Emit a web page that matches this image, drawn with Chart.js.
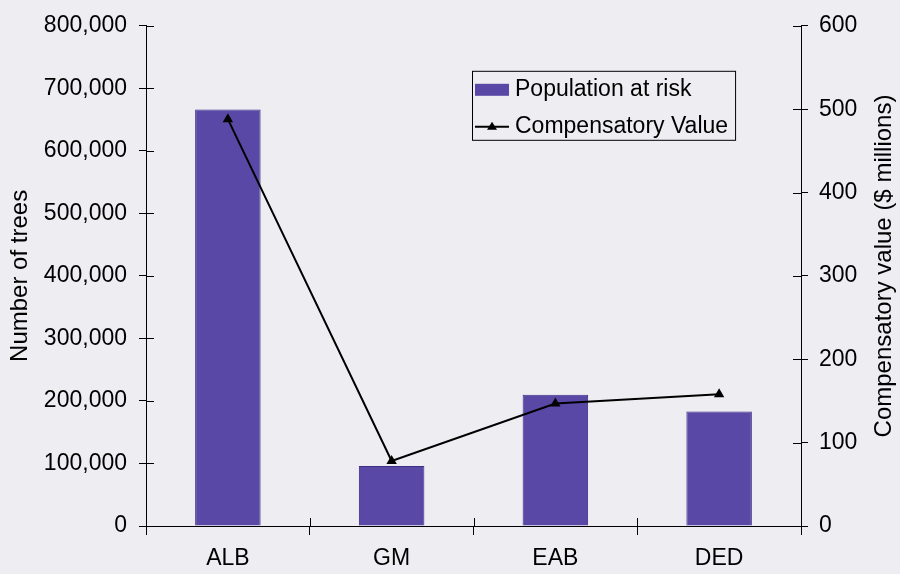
<!DOCTYPE html>
<html>
<head>
<meta charset="utf-8">
<title>Population at risk and compensatory value</title>
<script src="https://cdn.jsdelivr.net/npm/chart.js@4.4.1/dist/chart.umd.min.js"></script>
<style>
    html, body { margin: 0; padding: 0; background: #eeedf1; }
</style>
</head>
<body>
<canvas id="chart" width="900" height="574"></canvas>
<script>
"use strict";

// pests and their impact
const pests = ["ALB", "GM", "EAB", "DED"];
const treesAtRisk = [666000, 96000, 210000, 183000]; // number of trees
const compensatoryValue = [488, 78, 147, 158];        // $ millions

const treeAxisMax = 800000;
const treeAxisStep = 100000;
const valueAxisMax = 600;
const valueAxisStep = 100;

const FONT = "'Liberation Sans', Arial, sans-serif";
const barColor = "#5a48a6";

Chart.defaults.font.family = FONT;
Chart.defaults.color = "#000";

const canvas = document.getElementById("chart");

// page background behind the whole chart
const backdrop = {
    id: "backdrop",
    beforeDraw(chart) {
        const ctx = chart.ctx;
        ctx.save();
        ctx.fillStyle = "#eeedf1";
        ctx.fillRect(0, 0, chart.width, chart.height);
        ctx.restore();
    }
};

// tick marks that also poke into the plot, plus the right title and the boxed legend
const extras = {
    id: "extras",
    afterDraw(chart) {
        const ctx = chart.ctx;
        const area = chart.chartArea;
        const x = chart.scales.x, y = chart.scales.y, y1 = chart.scales.y1;
        ctx.save();
        ctx.strokeStyle = "#000";
        ctx.lineWidth = 1;
        ctx.beginPath();
        y.ticks.forEach(t => {
            const py = Math.round(y.getPixelForValue(t.value)) + 0.5;
            ctx.moveTo(area.left, py);
            ctx.lineTo(area.left + 8, py);
        });
        y1.ticks.forEach(t => {
            const py = Math.round(y1.getPixelForValue(t.value)) + 0.5;
            ctx.moveTo(area.right - 8, py);
            ctx.lineTo(area.right, py);
        });
        for (let i = 1; i < pests.length; i++) {
            const px = Math.round((x.getPixelForValue(i - 1) + x.getPixelForValue(i)) / 2) + 0.5;
            ctx.moveTo(px, area.bottom - 8);
            ctx.lineTo(px, area.bottom);
        }
        ctx.stroke();

        // right axis title, reading bottom to top
        ctx.font = "24px " + FONT;
        ctx.fillStyle = "#000";
        ctx.textAlign = "center";
        ctx.textBaseline = "middle";
        ctx.save();
        ctx.translate(884, 266);
        ctx.rotate(-Math.PI / 2);
        ctx.fillText("Compensatory value ($ millions)", 0, 0);
        ctx.restore();

        // legend box: bars first, then the line
        const sets = chart.data.datasets;
        const barSet = sets.find(d => d.type !== "line");
        const lineSet = sets.find(d => d.type === "line");
        ctx.font = "23px " + FONT;
        const boxL = area.left + 326, boxT = area.top + 45;
        const textX = boxL + 43;
        const textW = Math.max(ctx.measureText(barSet.label).width, ctx.measureText(lineSet.label).width);
        const boxW = textX - boxL + textW + 7;
        const boxH = 69;
        ctx.strokeRect(boxL + 0.5, boxT + 0.5, boxW, boxH);

        const row1 = boxT + 19, row2 = boxT + 56;
        ctx.fillStyle = barColor;
        ctx.fillRect(boxL + 3, row1 - 6, 34, 12);
        ctx.beginPath();
        ctx.moveTo(boxL + 3, row2);
        ctx.lineTo(boxL + 37, row2);
        ctx.lineWidth = 2;
        ctx.stroke();
        ctx.fillStyle = "#000";
        ctx.beginPath();
        ctx.moveTo(boxL + 20, row2 - 5);
        ctx.lineTo(boxL + 25, row2 + 3);
        ctx.lineTo(boxL + 15, row2 + 3);
        ctx.closePath();
        ctx.fill();

        ctx.textAlign = "left";
        ctx.fillText(barSet.label, textX, row1);
        ctx.fillText(lineSet.label, textX, row2);
        ctx.restore();
    }
};

new Chart(canvas, {
    type: "bar",
    data: {
        labels: pests,
        datasets: [
            {
                type: "line",
                label: "Compensatory Value",
                data: compensatoryValue,
                yAxisID: "y1",
                order: 0,
                borderColor: "#000",
                backgroundColor: "#000",
                borderWidth: 2,
                pointStyle: "triangle",
                pointRadius: 6,
                pointBorderWidth: 0,
                tension: 0,
            },
            {
                type: "bar",
                label: "Population at risk",
                data: treesAtRisk,
                yAxisID: "y",
                order: 1,
                backgroundColor: barColor,
                borderColor: "#3d2f86",
                borderWidth: 1,
                barPercentage: 0.4,
                categoryPercentage: 1,
            },
        ]
    },
    options: {
        responsive: false,
        animation: false,
        layout: {
            padding: { top: 23, left: 0, right: 0, bottom: 0 }
        },
        plugins: {
            legend: { display: false },
            tooltip: { enabled: false },
        },
        scales: {
            x: {
                offset: true,
                grid: {
                    offset: true,
                    drawOnChartArea: false,
                    drawTicks: true,
                    tickLength: 9,
                    color: "#000",
                },
                border: { display: true, color: "#000", width: 1 },
                ticks: { font: { size: 23 }, color: "#000", padding: 10 },
                afterFit: scale => { scale.height = 48; },
            },
            y: {
                position: "left",
                min: 0,
                max: treeAxisMax,
                grid: { drawOnChartArea: false, tickLength: 7, color: "#000" },
                border: { display: true, color: "#000", width: 1 },
                ticks: {
                    stepSize: treeAxisStep,
                    font: { size: 23 },
                    color: "#000",
                    padding: 12,
                    callback: v => v.toLocaleString("en-US"),
                },
                title: {
                    display: true,
                    text: "Number of trees",
                    font: { size: 24 },
                    color: "#000",
                    padding: { top: 6, bottom: 0 },
                },
                afterFit: scale => { scale.width = 146; },
            },
            y1: {
                position: "right",
                min: 0,
                max: valueAxisMax,
                grid: { drawOnChartArea: false, tickLength: 7, color: "#000" },
                border: { display: true, color: "#000", width: 1 },
                ticks: {
                    stepSize: valueAxisStep,
                    font: { size: 23 },
                    color: "#000",
                    padding: 11,
                },
                afterFit: scale => { scale.width = 99; },
            },
        },
    },
    plugins: [backdrop, extras]
});
</script>
</body>
</html>
